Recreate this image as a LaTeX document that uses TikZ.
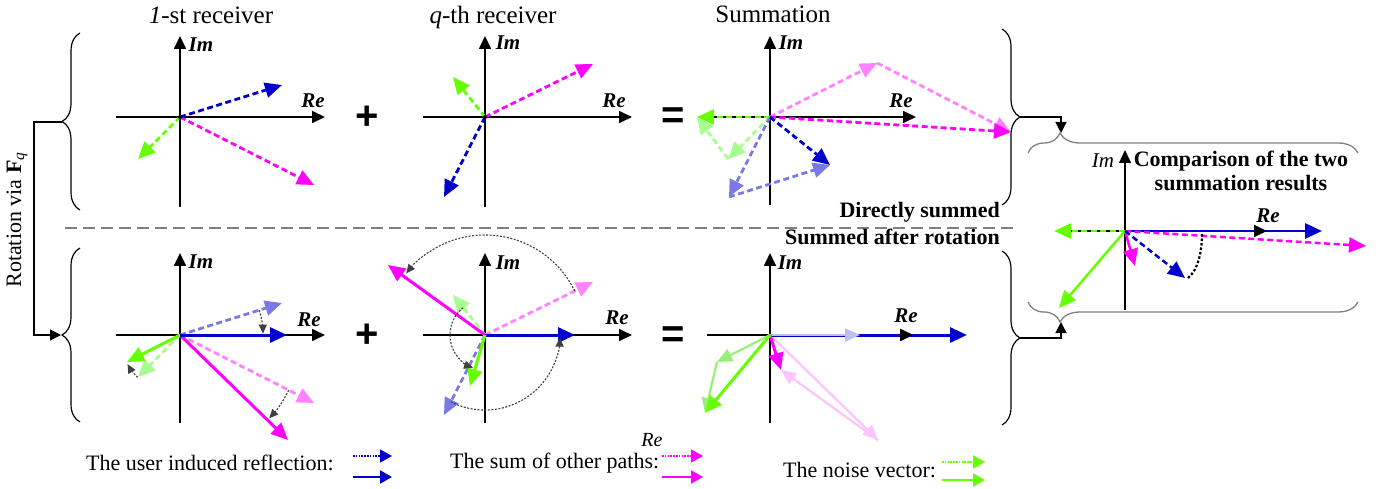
\documentclass[tikz,border=0pt]{standalone}
\usepackage{fontspec}
\setmainfont{Liberation Serif}
\setsansfont{Liberation Sans}
\usetikzlibrary{arrows.meta,decorations.pathreplacing}
\definecolor{vblue}{RGB}{0,0,204}
\definecolor{vmag}{RGB}{255,0,255}
\definecolor{vgreen}{RGB}{102,255,0}
\definecolor{lblue}{RGB}{122,122,230}
\definecolor{lmag}{RGB}{255,130,255}
\definecolor{lgreen}{RGB}{165,255,140}
\definecolor{fblue}{RGB}{190,190,245}
\definecolor{fmag}{RGB}{255,195,255}
\definecolor{fgreen}{RGB}{150,240,120}
\tikzset{
 ax/.style={line width=1.7pt,-{Triangle[length=13pt,width=12pt]}},
 vtip/.style={-{Triangle[length=17pt,width=15pt]}},
 dv/.style={vtip,line width=2.8pt,dash pattern=on 6pt off 3.5pt},
 sv/.style={vtip,line width=3pt},
 fv/.style={-{Triangle[length=15pt,width=13pt]},line width=2.2pt},
 rot/.style={line width=1.1pt,dash pattern=on 2pt off 1.5pt,draw=black!75,-{Triangle[length=9pt,width=8pt]}},
 axl/.style={font=\fontsize{21}{21}\selectfont\bfseries\itshape,inner sep=0pt},
 ttl/.style={font=\fontsize{25}{25}\selectfont,anchor=base,inner sep=0pt},
 bl/.style={font=\fontsize{22}{24}\selectfont\bfseries,inner sep=0pt},
 legt/.style={font=\fontsize{22}{22}\selectfont,inner sep=0pt,anchor=west},
 legd/.style={line width=1.6pt,dash pattern=on 1.6pt off 1.2pt,-{Triangle[length=12pt,width=13pt]}},
 legs/.style={line width=2.2pt,-{Triangle[length=12pt,width=13pt]}},
 op/.style={font=\sffamily\bfseries\fontsize{40}{40}\selectfont,inner sep=0pt},
 brc/.style={decorate,decoration={brace,amplitude=18pt},line width=1.2pt},
 gbrc/.style={decorate,decoration={brace,amplitude=20pt,aspect=#1},line width=1.3pt,draw=gray},
 conn/.style={line width=1.2pt,-{Triangle[length=11pt,width=11pt]}},
 odot/.style={fill=black,circle,inner sep=0pt,minimum size=4pt}
}
\begin{document}
\begin{tikzpicture}[x=1pt,y=-1pt]
\useasboundingbox (0,0) rectangle (1385,489);

% titles
\node[ttl] (t1) at (211,24) {\textit{1}-st receiver};
\node[ttl] (t2) at (493,24) {\textit{q}-th receiver};
\node[ttl] (t3) at (773,23) {Summation};

% ---------- Panel 1 (top, 1st receiver)
\coordinate (o1) at (180,117);
\coordinate (x1a) at (116,117); \coordinate (x1b) at (325,117);
\coordinate (y1a) at (180,207); \coordinate (y1b) at (180,36);
\draw[ax] (x1a) -- (x1b); \draw[ax] (y1a) -- (y1b);
\node[axl] (im1) at (201,45) {Im}; \node[axl] (re1) at (313,101) {Re};
\coordinate (b1) at (282,85); \coordinate (g1) at (138,159); \coordinate (m1) at (314,185);
\draw[dv,vmag] (o1) -- (m1);
\draw[dv,vgreen] (o1) -- (g1);
\draw[dv,vblue] (o1) -- (b1);
\node[odot] (d1) at (o1) {};

\node[op] (plus1) at (367,118) {+};

% ---------- Panel 2 (top, q-th receiver)
\coordinate (o2) at (485,117);
\coordinate (x2a) at (423,117); \coordinate (x2b) at (632,117);
\coordinate (y2a) at (485,207); \coordinate (y2b) at (485,36);
\draw[ax] (x2a) -- (x2b); \draw[ax] (y2a) -- (y2b);
\node[axl] (im2) at (508,43) {Im}; \node[axl] (re2) at (614,101) {Re};
\coordinate (b2) at (444,197); \coordinate (g2) at (453,77); \coordinate (m2) at (593,64);
\draw[dv,vmag] (o2) -- (m2);
\draw[dv,vgreen] (o2) -- (g2);
\draw[dv,vblue] (o2) -- (b2);
\node[odot] (d2) at (o2) {};

\node[op] (eq1) at (673,118) {=};

% ---------- Panel 3 (top, summation)
\coordinate (o3) at (770,117);
\coordinate (x3a) at (700,117); \coordinate (x3b) at (916,117);
\coordinate (y3a) at (770,205); \coordinate (y3b) at (770,36);
\draw[ax] (x3a) -- (x3b); \draw[ax] (y3a) -- (y3b);
\node[axl] (im3) at (791,43) {Im}; \node[axl] (re3) at (901,101) {Re};
\coordinate (pm3) at (877,63); \coordinate (m3) at (1011,132);
\coordinate (pg3) at (728,159); \coordinate (g3) at (697,117);
\coordinate (pb3) at (729,197); \coordinate (b3) at (830,165);
\draw[dv,lmag] (o3) -- (pm3); \draw[dv,lmag] (pm3) -- (m3);
\draw[dv,lgreen] (o3) -- (pg3); \draw[dv,lgreen] (pg3) -- (g3);
\draw[dv,lblue] (o3) -- (pb3); \draw[dv,lblue] (pb3) -- (b3);
\draw[dv,vmag] (o3) -- (m3);
\draw[dv,vgreen] (o3) -- (g3);
\draw[dv,vblue] (o3) -- (b3);

% ---------- separator
\coordinate (s1) at (65,228); \coordinate (s2) at (1013,228);
\draw[gray,line width=1.3pt,dash pattern=on 12pt off 6pt] (s1) -- (s2);
\node[bl,anchor=base east] (ds) at (1000,218) {Directly summed};
\node[bl,anchor=base east] (sr) at (1000,245) {Summed after rotation};

% ---------- Panel 4 (bottom, 1st receiver)
\coordinate (o4) at (180,335);
\coordinate (x4a) at (116,335); \coordinate (x4b) at (325,335);
\coordinate (y4a) at (180,423); \coordinate (y4b) at (180,253);
\draw[ax] (x4a) -- (x4b); \draw[ax] (y4a) -- (y4b);
\node[axl] (im4) at (201,262) {Im}; \node[axl] (re4) at (309,320) {Re};
\coordinate (lb4) at (282,303); \coordinate (lg4) at (138,377); \coordinate (lm4) at (314,403);
\coordinate (b4) at (287,335); \coordinate (g4) at (127,362); \coordinate (m4) at (288,440);
\draw[dv,lmag] (o4) -- (lm4);
\draw[dv,lgreen] (o4) -- (lg4);
\draw[dv,lblue] (o4) -- (lb4);
\draw[sv,vmag] (o4) -- (m4);
\draw[sv,vgreen] (o4) -- (g4);
\draw[sv,vblue] (o4) -- (b4);
\coordinate (r4b) at (259.2,310.2);
\coordinate (r4g) at (137.6,377.4);
\coordinate (r4m) at (288.8,390.2);
\draw[rot] (r4b) arc[start angle=-17.4,end angle=-1,radius=83];
\draw[rot] (r4g) arc[start angle=135,end angle=151,radius=60];
\draw[rot] (r4m) arc[start angle=26.9,end angle=43,radius=122];

\node[op] (plus2) at (367,336) {+};

% ---------- Panel 5 (bottom, q-th receiver)
\coordinate (o5) at (485,335);
\coordinate (x5a) at (423,335); \coordinate (x5b) at (632,335);
\coordinate (y5a) at (485,423); \coordinate (y5b) at (485,253);
\draw[ax] (x5a) -- (x5b); \draw[ax] (y5a) -- (y5b);
\node[axl] (im5) at (508,263) {Im}; \node[axl] (re5) at (617,318) {Re};
\coordinate (lb5) at (444,415); \coordinate (lg5) at (453,295); \coordinate (lm5) at (593,282);
\coordinate (b5) at (575,335); \coordinate (g5) at (470,386); \coordinate (m5) at (388,265);
\draw[dv,lmag] (o5) -- (lm5);
\draw[dv,lgreen] (o5) -- (lg5);
\draw[dv,lblue] (o5) -- (lb5);
\draw[sv,vmag] (o5) -- (m5);
\draw[sv,vblue] (o5) -- (b5);
\draw[sv,vgreen] (o5) -- (g5);
\coordinate (r5m) at (574.8,291);
\coordinate (r5g) at (463.1,307.7);
\coordinate (r5b) at (450.8,401.8);
\draw[rot] (r5m) arc[start angle=-26.1,end angle=-142,radius=100];
\draw[rot] (r5g) arc[start angle=-128.7,end angle=-250,radius=35];
\draw[rot] (r5b) arc[start angle=117.1,end angle=2,radius=75];

\node[op] (eq2) at (673,337) {=};

% ---------- Panel 6 (bottom, summation)
\coordinate (o6) at (770,335);
\coordinate (x6a) at (707,335); \coordinate (x6b) at (913,335);
\coordinate (y6a) at (770,423); \coordinate (y6b) at (770,253);
\draw[ax] (x6a) -- (x6b); \draw[ax] (y6a) -- (y6b);
\node[axl] (im6) at (790,263) {Im}; \node[axl] (re6) at (906,316) {Re};
\coordinate (fb6) at (860,335);
\coordinate (pm6) at (878,440); \coordinate (m6) at (781,370);
\coordinate (pg6) at (717,362); \coordinate (g6) at (705,413);
\coordinate (b6) at (967,335);
\draw[fv,fmag] (o6) -- (pm6); \draw[fv,fmag] (pm6) -- (m6);
\draw[fv,fgreen] (o6) -- (pg6); \draw[fv,fgreen] (pg6) -- (g6);
\draw[sv,vblue] (o6) -- (b6);
\draw[fv,fblue] (o6) -- (fb6);
\coordinate (x6c) at (900,335);
\draw[ax] (x6c) -- (x6b);
\draw[sv,vmag] (o6) -- (m6);
\draw[sv,vgreen] (o6) -- (g6);

% ---------- braces
\coordinate (lt1) at (80,210); \coordinate (lt2) at (80,33);
\draw[brc] (lt1) -- (lt2);
\coordinate (lb1) at (80,422); \coordinate (lb2) at (80,248);
\draw[brc] (lb1) -- (lb2);
\coordinate (rt1) at (1002,29); \coordinate (rt2) at (1002,205);
\draw[brc] (rt1) -- (rt2);
\coordinate (rb1) at (1002,251); \coordinate (rb2) at (1002,425);
\draw[brc] (rb1) -- (rb2);

% left rotation connector
\coordinate (bl1) at (62,122); \coordinate (bl2) at (61,335);
\coordinate (bk1) at (34,122);
\draw[conn] (bl1) -- (bk1) |- (bl2);
\node[font=\fontsize{22}{22}\selectfont,rotate=90,inner sep=0pt] (rotl) at (17,220) {Rotation via \textbf{F}\textsubscript{\textit{q}}};

% right connectors
\coordinate (br1) at (1020,117); \coordinate (cb1) at (1061,133);
\coordinate (br2) at (1020,338); \coordinate (cb2) at (1061,322);
\draw[conn] (br1) -| (cb1);
\draw[conn] (br2) -| (cb2);

% ---------- comparison panel
\coordinate (gt1) at (1028,153); \coordinate (gt2) at (1358,153);
\draw[gbrc=0.097] (gt1) -- (gt2);
\coordinate (gb1) at (1358,302); \coordinate (gb2) at (1028,302);
\draw[gbrc=0.903] (gb1) -- (gb2);

\coordinate (oc) at (1125,231);
\coordinate (xca) at (1058,231); \coordinate (xcb) at (1267,231);
\coordinate (xcc) at (1257,231);
\coordinate (yca) at (1125,310); \coordinate (ycb) at (1125,150);
\draw[ax,line width=1.3pt] (yca) -- (ycb);
\draw[line width=1.3pt] (xca) -- (xcb);
\node[font=\fontsize{21}{21}\selectfont\itshape,inner sep=0pt] (imc) at (1103,161) {Im};
\node[axl] (rec) at (1268,216) {Re};
\node[bl,align=center] (cmpt) at (1241,171) {Comparison of the two\\summation results};
\coordinate (gc) at (1054,231); \coordinate (bc) at (1322,231);
\coordinate (mc) at (1366,246); \coordinate (msc) at (1135,266);
\coordinate (gsc) at (1059,308); \coordinate (bdc) at (1185,278);
\coordinate (bdd) at (1188,278);
\coordinate (cvc) at (1202,233);
\draw[dv,vgreen,line width=2.5pt] (oc) -- (gc);
\draw[sv,vblue,line width=2.8pt] (oc) -- (bc);
\draw[ax] (xcc) -- (xcb);
\draw[dv,vmag,line width=2.5pt] (oc) -- (mc);
\draw[sv,vmag,line width=2.5pt] (oc) -- (msc);
\draw[sv,vgreen,line width=2.5pt] (oc) -- (gsc);
\draw[dv,vblue,line width=2.5pt] (oc) -- (bdc);
\draw[line width=2.2pt,dash pattern=on 2.5pt off 2pt] (bdd) .. controls (1198,270) and (1202,252) .. (cvc);

% ---------- legend
\node[legt] (lt1n) at (86,463) {The user induced reflection:};
\coordinate (l1a) at (353,456); \coordinate (l1b) at (392,456);
\coordinate (l1c) at (353,477); \coordinate (l1d) at (392,477);
\draw[legd,vblue] (l1a) -- (l1b); \draw[legs,vblue] (l1c) -- (l1d);
\node[legt] (lt2n) at (450,463) {The sum of other paths:};
\node[font=\fontsize{20}{20}\selectfont\itshape,inner sep=0pt] (relg) at (652,440) {Re};
\coordinate (l2a) at (662,456); \coordinate (l2b) at (703,456);
\coordinate (l2c) at (662,477); \coordinate (l2d) at (703,477);
\draw[legd,vmag] (l2a) -- (l2b); \draw[legs,vmag] (l2c) -- (l2d);
\node[legt] (lt3n) at (783,470) {The noise vector:};
\coordinate (l3a) at (942,462); \coordinate (l3b) at (985,462);
\coordinate (l3c) at (942,480); \coordinate (l3d) at (985,480);
\draw[legd,vgreen] (l3a) -- (l3b); \draw[legs,vgreen] (l3c) -- (l3d);
\end{tikzpicture}
\end{document}
